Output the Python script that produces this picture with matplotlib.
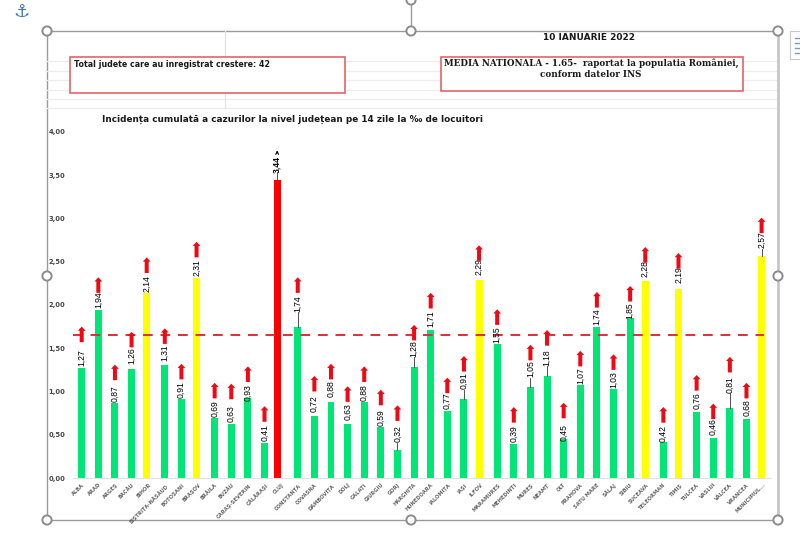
import matplotlib
matplotlib.use("Agg")
import matplotlib.pyplot as plt
from matplotlib.patches import Rectangle, Circle

judete = ["ALBA", "ARAD", "ARGEȘ", "BACĂU", "BIHOR", "BISTRIȚA-NĂSĂUD", "BOTOȘANI", "BRAȘOV", "BRĂILA", "BUZĂU",
          "CARAȘ-SEVERIN", "CĂLĂRAȘI", "CLUJ", "CONSTANȚA", "COVASNA", "DÂMBOVIȚA", "DOLJ", "GALAȚI", "GIURGIU", "GORJ",
          "HARGHITA", "HUNEDOARA", "IALOMIȚA", "IAȘI", "ILFOV", "MARAMUREȘ", "MEHEDINȚI", "MUREȘ", "NEAMȚ", "OLT",
          "PRAHOVA", "SATU MARE", "SĂLAJ", "SIBIU", "SUCEAVA", "TELEORMAN", "TIMIȘ", "TULCEA", "VASLUI", "VÂLCEA",
          "VRANCEA", "MUNICIPIUL..."]
incidenta = [1.27, 1.94, 0.87, 1.26, 2.14, 1.31, 0.91, 2.31, 0.69, 0.63,
             0.93, 0.41, 3.44, 1.74, 0.72, 0.88, 0.63, 0.88, 0.59, 0.32,
             1.28, 1.71, 0.77, 0.91, 2.29, 1.55, 0.39, 1.05, 1.18, 0.45,
             1.07, 1.74, 1.03, 1.85, 2.28, 0.42, 2.19, 0.76, 0.46, 0.81,
             0.68, 2.57]
# where the value labels sit, they were moved by hand in the original
label_y = [1.39, 2.06, 0.98, 1.42, 2.25, 1.45, 1.02, 2.43, 0.80, 0.74,
           0.99, 0.52, 3.62, 2.02, 0.86, 1.03, 0.77, 0.99, 0.70, 0.51,
           1.50, 1.84, 0.89, 1.12, 2.44, 1.66, 0.51, 1.26, 1.39, 0.53,
           1.18, 1.86, 1.14, 1.93, 2.42, 0.52, 2.35, 0.89, 0.59, 1.08,
           0.81, 2.75]
# tips of the "growing" arrows
arrow_tip = [1.75, 2.32, 1.31, 1.69, 2.55, 1.73, 1.32, 2.73, 1.10, 1.09,
             1.29, 0.83, 3.82, 2.32, 1.18, 1.32, 1.06, 1.29, 1.02, 0.84,
             1.77, 2.14, 1.16, 1.41, 2.69, 1.95, 0.82, 1.54, 1.71, 0.87,
             1.47, 2.15, 1.43, 2.22, 2.67, 0.82, 2.60, 1.19, 0.86, 1.40,
             1.10, 3.01]
media = 1.65
y_ticks = [0, 0.5, 1, 1.5, 2, 2.5, 3, 3.5, 4]

W, H = 800, 536
fig = plt.figure(figsize=(W / 100, H / 100), dpi=100)

# overlay in pixels for the slide frame and the text boxes
bg = fig.add_axes([0, 0, 1, 1])
bg.set_xlim(0, W)
bg.set_ylim(H, 0)
bg.axis("off")
for y in [61, 71, 80, 90, 99, 108]:
    bg.plot([47, 778], [y, y], color="#ececec", lw=0.9)
bg.plot([225, 225], [31, 108], color="#e4e4e4", lw=0.9)
bg.add_patch(Rectangle((47, 31), 731, 489, fill=False, ec="#9a9a9a", lw=1.0))
bg.plot([778, 778], [31, 520], color="#c4c4c4", lw=1.8)
bg.plot([411, 411], [4, 31], color="#9a9a9a", lw=1.0)
for cx, cy in [(47, 31), (411, 31), (778, 31), (47, 276), (778, 276), (47, 520), (411, 520), (778, 520), (411, 0)]:
    bg.add_patch(Circle((cx, cy), 4.6, fc="white", ec="#8c8c8c", lw=1.4, zorder=5))
bg.text(21, 12, "⚓", color="#3f7ab5", fontsize=13, ha="center", va="center", family="DejaVu Sans")
bg.add_patch(Rectangle((790, 31), 14, 28, fc="white", ec="#c8c8c8", lw=0.8))
for y in [38, 43, 48, 53]:
    bg.plot([795, 800], [y, y], color="#7f9cc0", lw=1.0)

bg.add_patch(Rectangle((69.5, 57), 275.5, 36, fc="white", ec="#e0656a", lw=1.2, zorder=3))
bg.text(74, 64.5, "Total judete care au inregistrat crestere: 42", fontsize=5.7, fontweight="bold",
        family="DejaVu Sans", color="#1a1a1a", va="center", zorder=4)
bg.add_patch(Rectangle((441, 57), 302, 34, fc="white", ec="#e0656a", lw=1.2, zorder=3))
bg.text(591, 63.5, "MEDIA NATIONALA - 1.65-  raportat la populatia României,", fontsize=6.3, fontweight="bold",
        family="DejaVu Serif", color="#1a1a1a", ha="center", va="center", zorder=4)
bg.text(591, 74.5, "conform datelor INS", fontsize=6.3, fontweight="bold",
        family="DejaVu Serif", color="#1a1a1a", ha="center", va="center", zorder=4)
bg.text(589, 37.5, "10 IANUARIE 2022", fontsize=6.5, fontweight="bold", family="DejaVu Sans",
        color="#1a1a1a", ha="center", va="center")
bg.text(102, 119, "Incidența cumulată a cazurilor la nivel județean pe 14 zile la ‰ de locuitori", fontsize=6.4,
        fontweight="bold", family="DejaVu Sans", color="#1a1a1a", va="center")

# chart area, y 0 at 478 px and y 4 at 132 px
ax = fig.add_axes([73.4 / W, 1 - 478 / H, 698 / W, 346 / H])
ax.patch.set_alpha(0)
ax.set_xlim(-0.5, 41.5)
ax.set_ylim(0, 4)

pos = []
culori = []
for i, v in enumerate(incidenta):
    # three overlapped series in the original so the bars are not quite evenly spaced
    if v >= 3:
        culori.append("#ff0000")
        pos.append(i - 0.24)
    elif v >= 2:
        culori.append("#ffff00")
        pos.append(i - 0.09)
    else:
        culori.append("#00e676")
        pos.append(i)

ax.bar(pos, incidenta, width=0.42, color=culori, zorder=2)
ax.axhline(media, xmin=0, xmax=0.99, color="#d9303a", ls=(0, (5, 4)), lw=1.4, zorder=3)

for i, v in enumerate(incidenta):
    x = pos[i]
    txt = f"{v:.2f}".replace(".", ",")
    ax.text(x, label_y[i], txt, rotation=90, ha="center", va="center", fontsize=6.2,
            family="Liberation Sans", color="black", zorder=5,
            fontweight="bold" if v >= 3 else "normal")
    # leader line when the label was dragged away from its bar
    if label_y[i] - v > 0.17:
        ax.plot([x, x], [v, label_y[i] - 0.10], color="#333333", lw=0.6, zorder=4)
    if v >= 3:
        ax.annotate("", xy=(x, arrow_tip[i]), xytext=(0, -6), textcoords="offset points",
                    xycoords="data", arrowprops=dict(arrowstyle="->", color="black", lw=0.8, mutation_scale=5))
    else:
        ax.annotate("", xy=(x, arrow_tip[i]), xytext=(0, -11.2), textcoords="offset points",
                    xycoords="data", arrowprops=dict(width=2.9, headwidth=5.6, headlength=3, color="#ee0a14", lw=0),
                    zorder=6)

ax.set_xticks(range(len(judete)))
ax.set_xticklabels(judete, rotation=45, ha="right", rotation_mode="anchor", fontsize=3.7,
                   fontweight="bold", color="#666666", family="DejaVu Sans")
ax.set_yticks(y_ticks)
ax.set_yticklabels([f"{t:.2f}".replace(".", ",") for t in y_ticks], fontsize=4.9, fontweight="bold",
                   color="#444444", family="DejaVu Sans")
ax.tick_params(length=0, pad=6)
ax.tick_params(axis="x", pad=3)
for s in ["top", "right", "left"]:
    ax.spines[s].set_visible(False)
ax.spines["bottom"].set_color("#e2e2e2")

fig.savefig("out.png", dpi=100)
